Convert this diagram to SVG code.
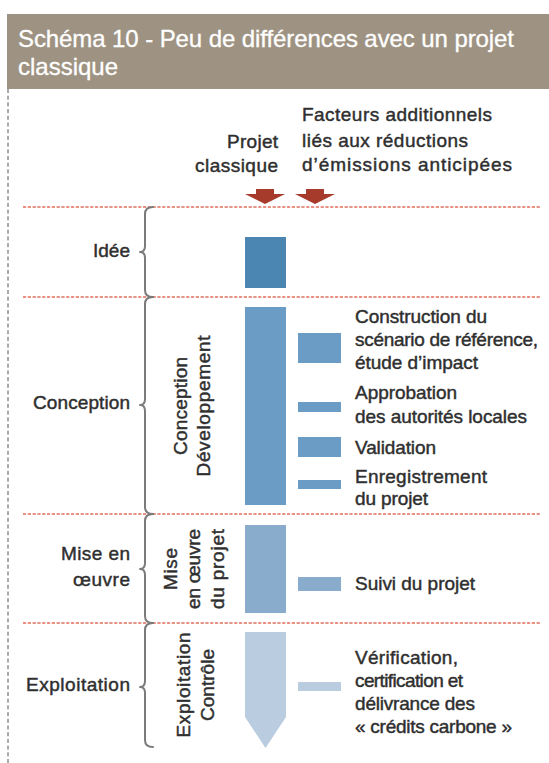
<svg xmlns="http://www.w3.org/2000/svg" width="549" height="763" viewBox="0 0 549 763">
  <defs>
    <style>
      .t { font-family: "Liberation Sans", Arial, sans-serif; font-size: 19px; fill: #2f2f2f; stroke: #2f2f2f; stroke-width: 0.45; }
      .end { text-anchor: end; }
      .mid { text-anchor: middle; }
      .title { font-family: "Liberation Sans", Arial, sans-serif; font-size: 24px; fill: #ffffff; stroke: #ffffff; stroke-width: 0.3; }
      .divider { stroke: #df6f5e; stroke-width: 1.5; stroke-dasharray: 3.2 1.6; fill: none; }
      .brace { stroke: #7b7b7b; stroke-width: 2; fill: none; stroke-linecap: round; stroke-linejoin: round; }
      .c1 { fill: #4a86b1; }
      .c2 { fill: #6b9cc5; }
      .c3 { fill: #89abcc; }
      .c4 { fill: #b9cce0; }
      .arrow { fill: #a63a2b; }
    </style>
  </defs>

  <rect x="0" y="0" width="549" height="763" fill="#ffffff"/>

  <!-- title bar -->
  <g id="title">
    <rect x="7" y="14" width="542" height="75" fill="#9e9382"/>
    <text class="title" x="18" y="47" textLength="496">Schéma 10 - Peu de différences avec un projet</text>
    <text class="title" x="18" y="75" textLength="100">classique</text>
  </g>

  <!-- left margin rule -->
  <line x1="8" y1="89" x2="8" y2="763" stroke="#555555" stroke-width="1" stroke-dasharray="4 2.7"/>

  <!-- column headings -->
  <g id="heading-classic">
    <text class="t end" x="278" y="148" textLength="51">Projet</text>
    <text class="t end" x="278" y="172" textLength="83">classique</text>
  </g>
  <g id="heading-factors">
    <text class="t" x="302" y="121" textLength="190">Facteurs additionnels</text>
    <text class="t" x="302" y="147" textLength="166">liés aux réductions</text>
    <text class="t" x="302" y="171" textLength="210">d’émissions anticipées</text>
  </g>

  <!-- connectors: heading arrows and phase dividers -->
  <g id="connectors">
    <polygon class="arrow" points="256,189 274,189 274,194 285,194 265,204 245,194 256,194"/>
    <polygon class="arrow" points="306,189 324,189 324,194 335,194 315,204 295,194 306,194"/>
    <line class="divider" x1="23" y1="207" x2="541" y2="207"/>
    <line class="divider" x1="23" y1="297" x2="541" y2="297"/>
    <line class="divider" x1="23" y1="514" x2="541" y2="514"/>
    <line class="divider" x1="23" y1="623" x2="541" y2="623"/>
  </g>

  <!-- phase: Idée -->
  <g id="phase-idee">
    <text class="t end" x="130" y="257" textLength="37">Idée</text>
    <path class="brace" d="M153,207 Q145,207 145,214 L145,246 Q145,252 140,252 Q145,252 145,258 L145,290 Q145,297 153,297"/>
    <rect class="c1" x="245" y="237" width="41" height="51"/>
  </g>

  <!-- phase: Conception -->
  <g id="phase-conception">
    <text class="t end" x="130" y="409" textLength="97">Conception</text>
    <path class="brace" d="M153,297 Q145,297 145,304 L145,399 Q145,405 140,405 Q145,405 145,411 L145,507 Q145,514 153,514"/>
    <rect class="c2" x="245" y="307" width="41" height="198"/>
    <g transform="translate(0,406)">
      <text class="t mid" transform="translate(187,0) rotate(-90)" textLength="98">Conception</text>
      <text class="t mid" transform="translate(210,0) rotate(-90)" textLength="141">Développement</text>
    </g>
  </g>

  <!-- phase: Mise en œuvre -->
  <g id="phase-mise">
    <text class="t end" x="130" y="560" textLength="69">Mise en</text>
    <text class="t end" x="130" y="586" textLength="57">œuvre</text>
    <path class="brace" d="M153,514 Q145,514 145,521 L145,563 Q145,569 140,569 Q145,569 145,575 L145,616 Q145,623 153,623"/>
    <rect class="c3" x="245" y="525" width="41" height="88"/>
    <g transform="translate(0,569)">
      <text class="t mid" transform="translate(177,0) rotate(-90)" textLength="42">Mise</text>
      <text class="t mid" transform="translate(200,0) rotate(-90)" textLength="80">en œuvre</text>
      <text class="t mid" transform="translate(224,0) rotate(-90)" textLength="80">du projet</text>
    </g>
  </g>

  <!-- phase: Exploitation -->
  <g id="phase-exploitation">
    <text class="t end" x="130" y="691" textLength="104">Exploitation</text>
    <path class="brace" d="M153,623 Q145,623 145,630 L145,681 Q145,687 140,687 Q145,687 145,693 L145,740 Q145,747 153,747"/>
    <polygon class="c4" points="245,632 286,632 286,717 265.5,748 245,717"/>
    <g transform="translate(0,685)">
      <text class="t mid" transform="translate(190,0) rotate(-90)" textLength="105">Exploitation</text>
      <text class="t mid" transform="translate(214,0) rotate(-90)" textLength="72">Contrôle</text>
    </g>
  </g>

  <!-- additional factors -->
  <g id="factor-reference">
    <rect class="c2" x="298" y="333" width="43" height="30"/>
    <text class="t" x="355" y="323" textLength="132">Construction du</text>
    <text class="t" x="355" y="346" textLength="183">scénario de référence,</text>
    <text class="t" x="355" y="369" textLength="123">étude d’impact</text>
  </g>
  <g id="factor-approbation">
    <rect class="c2" x="298" y="402" width="43" height="10"/>
    <text class="t" x="355" y="399" textLength="102">Approbation</text>
    <text class="t" x="355" y="423" textLength="172">des autorités locales</text>
  </g>
  <g id="factor-validation">
    <rect class="c2" x="298" y="437" width="43" height="20"/>
    <text class="t" x="355" y="454" textLength="81">Validation</text>
  </g>
  <g id="factor-enregistrement">
    <rect class="c2" x="298" y="480" width="43" height="9"/>
    <text class="t" x="355" y="483" textLength="132">Enregistrement</text>
    <text class="t" x="355" y="505" textLength="73">du projet</text>
  </g>
  <g id="factor-suivi">
    <rect class="c3" x="298" y="577" width="43" height="14"/>
    <text class="t" x="355" y="590" textLength="120">Suivi du projet</text>
  </g>
  <g id="factor-verification">
    <rect class="c4" x="298" y="682" width="43" height="9"/>
    <text class="t" x="355" y="664" textLength="103">Vérification,</text>
    <text class="t" x="355" y="687" textLength="108">certification et</text>
    <text class="t" x="355" y="710" textLength="120">délivrance des</text>
    <text class="t" x="355" y="733" textLength="157">« crédits carbone »</text>
  </g>
</svg>
